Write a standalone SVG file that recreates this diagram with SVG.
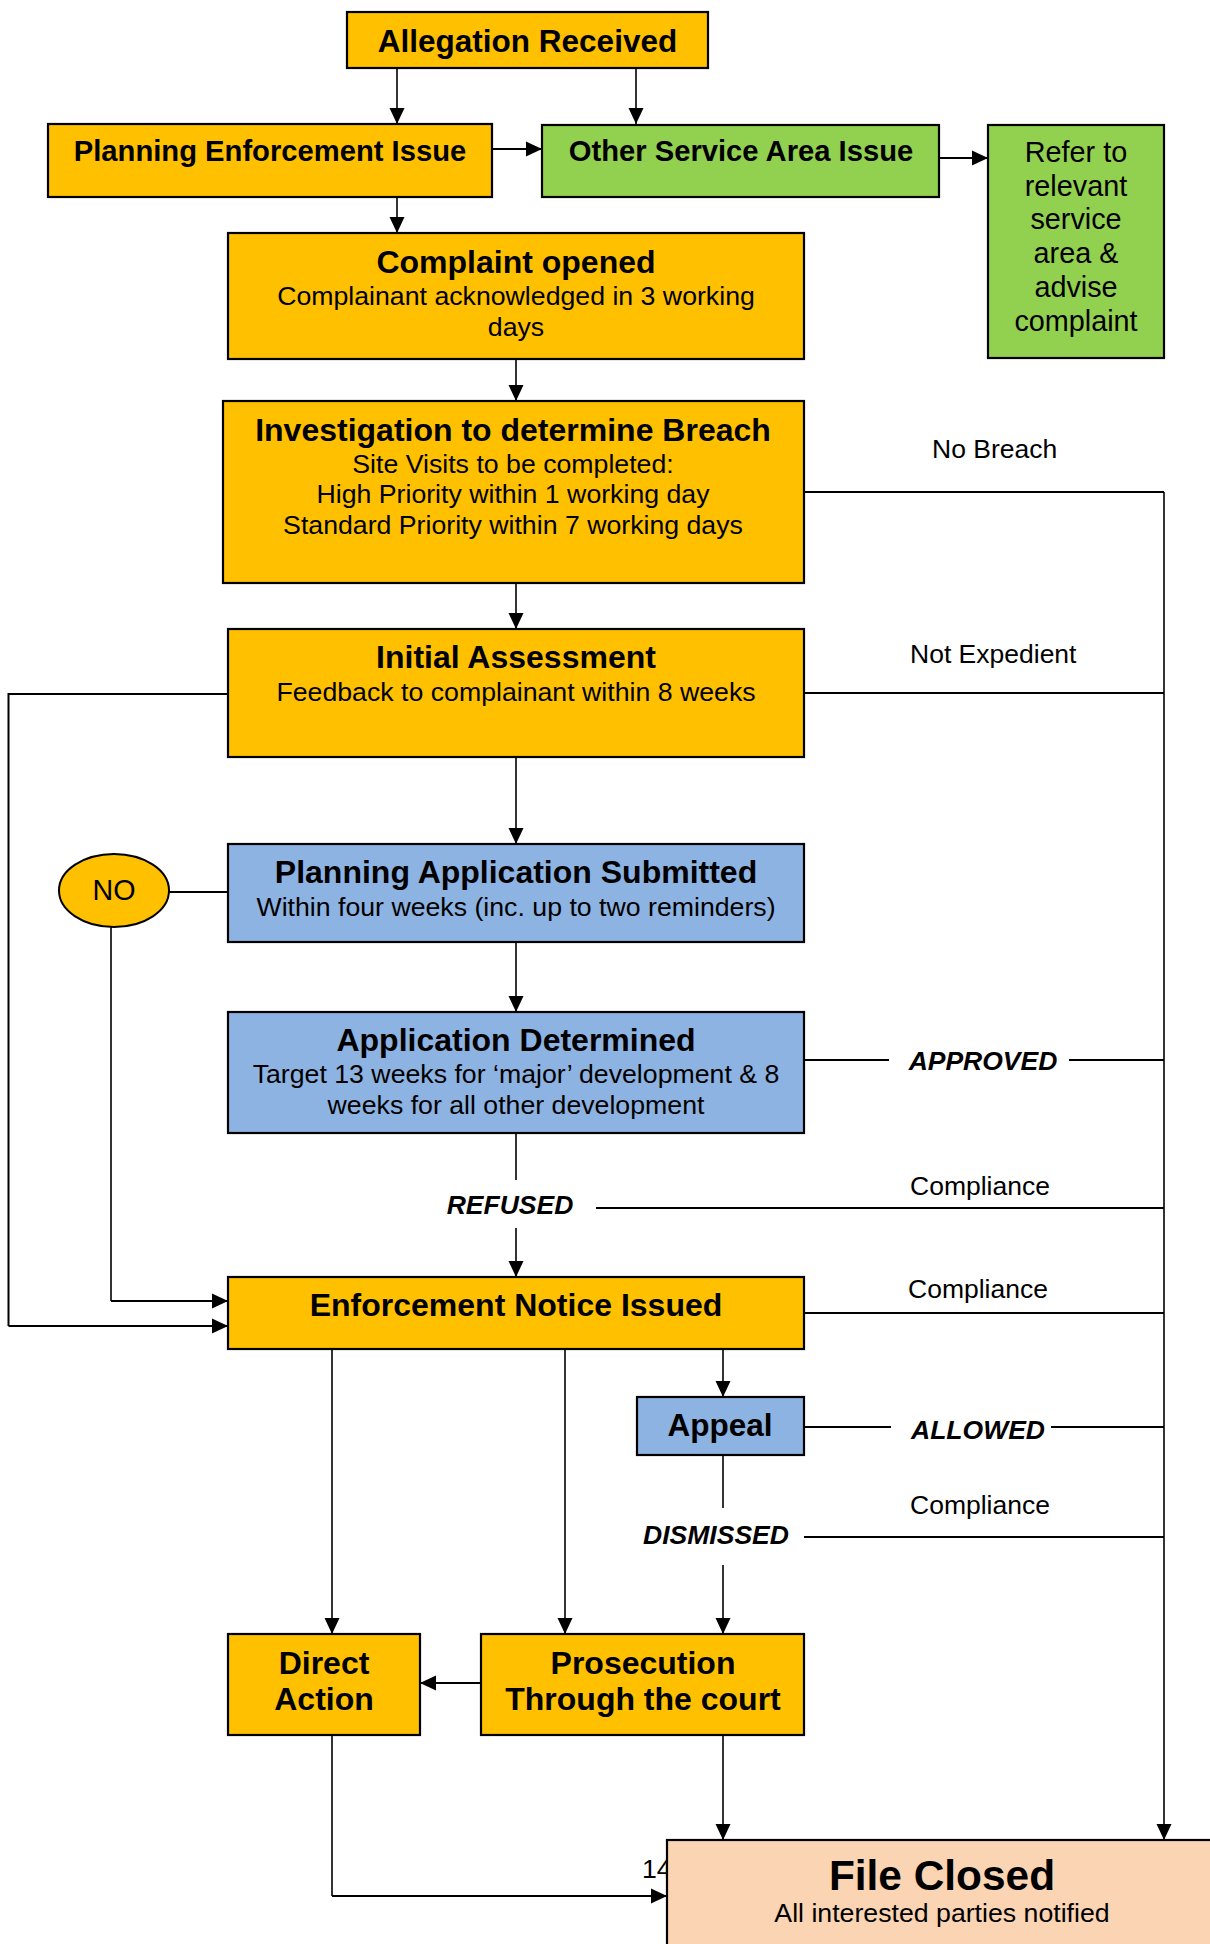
<svg xmlns="http://www.w3.org/2000/svg" width="1210" height="1944" viewBox="0 0 1210 1944">
<style>
text{font-family:"Liberation Sans",Arial,sans-serif;fill:#000;text-anchor:middle}
.t{font-weight:bold;font-size:32px}
.s{font-size:26.7px}
.lbl{font-size:26.5px;text-anchor:start}
.bi{font-weight:bold;font-style:italic;font-size:26.5px}
.box{stroke:#000;stroke-width:2.2}
.or{fill:#FFC000}
.gr{fill:#92D050}
.bl{fill:#8DB3E2}
.pe{fill:#FBD4B4}
.c{fill:none;stroke:#000;stroke-width:1.6}
.h{fill:none;stroke:#000;stroke-width:2}
</style>
<defs>
<marker id="ar" markerUnits="userSpaceOnUse" markerWidth="16" markerHeight="16" viewBox="0 0 16 16" refX="16" refY="8" orient="auto">
<path d="M0,0.5 L16,8 L0,15.5 Z" fill="#000"/>
</marker>
</defs>
<text x="642" y="1878" class="s" style="text-anchor:start">14</text>
<g id="connectors">
<line class="c" x1="397" y1="68" x2="397" y2="124" marker-end="url(#ar)"/>
<line class="c" x1="636" y1="68" x2="636" y2="124" marker-end="url(#ar)"/>
<line class="h" x1="492" y1="149" x2="542" y2="149" marker-end="url(#ar)"/>
<line class="h" x1="939" y1="158" x2="988" y2="158" marker-end="url(#ar)"/>
<line class="c" x1="397" y1="197" x2="397" y2="233" marker-end="url(#ar)"/>
<line class="c" x1="516" y1="359" x2="516" y2="401" marker-end="url(#ar)"/>
<line class="c" x1="516" y1="583" x2="516" y2="629" marker-end="url(#ar)"/>
<line class="c" x1="516" y1="757" x2="516" y2="844" marker-end="url(#ar)"/>
<line class="c" x1="516" y1="942" x2="516" y2="1012" marker-end="url(#ar)"/>
<line class="c" x1="516" y1="1133" x2="516" y2="1180"/>
<line class="c" x1="516" y1="1228" x2="516" y2="1277" marker-end="url(#ar)"/>
<polyline class="h" points="804,492 1164,492"/>
<line class="c" x1="1164" y1="492" x2="1164" y2="1840" marker-end="url(#ar)"/>
<line class="h" x1="804" y1="693" x2="1164" y2="693"/>
<polyline class="h" points="228,694 8.5,694 8.5,1326"/>
<line class="h" x1="8.5" y1="1326" x2="228" y2="1326" marker-end="url(#ar)"/>
<line class="h" x1="169" y1="892" x2="228" y2="892"/>
<line class="c" x1="111" y1="927" x2="111" y2="1301"/>
<line class="h" x1="111" y1="1301" x2="228" y2="1301" marker-end="url(#ar)"/>
<line class="h" x1="804" y1="1060" x2="889" y2="1060"/>
<line class="h" x1="1069" y1="1060" x2="1164" y2="1060"/>
<line class="h" x1="596" y1="1208" x2="1164" y2="1208"/>
<line class="h" x1="804" y1="1313" x2="1164" y2="1313"/>
<line class="c" x1="332" y1="1349" x2="332" y2="1634" marker-end="url(#ar)"/>
<line class="c" x1="565" y1="1349" x2="565" y2="1634" marker-end="url(#ar)"/>
<line class="c" x1="723" y1="1349" x2="723" y2="1397" marker-end="url(#ar)"/>
<line class="h" x1="804" y1="1427" x2="891" y2="1427"/>
<line class="h" x1="1051" y1="1427" x2="1164" y2="1427"/>
<line class="c" x1="723" y1="1456" x2="723" y2="1508"/>
<line class="h" x1="804" y1="1537" x2="1164" y2="1537"/>
<line class="c" x1="723" y1="1565" x2="723" y2="1634" marker-end="url(#ar)"/>
<line class="h" x1="481" y1="1683" x2="420" y2="1683" marker-end="url(#ar)"/>
<line class="c" x1="723" y1="1735" x2="723" y2="1840" marker-end="url(#ar)"/>
<polyline class="c" points="332,1735 332,1896"/>
<line class="h" x1="332" y1="1896" x2="667" y2="1896" marker-end="url(#ar)"/>
<text x="932" y="458" class="lbl">No Breach</text>
<text x="910" y="663" class="lbl">Not Expedient</text>
<text x="983" y="1070" class="bi">APPROVED</text>
<text x="510" y="1214" class="bi">REFUSED</text>
<text x="910" y="1195" class="lbl">Compliance</text>
<text x="908" y="1298" class="lbl">Compliance</text>
<text x="978" y="1439" class="bi">ALLOWED</text>
<text x="910" y="1514" class="lbl">Compliance</text>
<text x="716" y="1544" class="bi">DISMISSED</text>
</g>
<g id="allegation">
<rect class="box or" x="347" y="12" width="361" height="56"/>
<text x="527.5" y="52" class="t" style="font-size:31.5px">Allegation Received</text>
</g>
<g id="planning-enforcement">
<rect class="box or" x="48" y="124" width="444" height="73"/>
<text x="270" y="161" class="t" style="font-size:29.2px">Planning Enforcement Issue</text>
</g>
<g id="other-service">
<rect class="box gr" x="542" y="125" width="397" height="72"/>
<text x="741" y="161" class="t" style="font-size:29.2px">Other Service Area Issue</text>
</g>
<g id="refer">
<rect class="box gr" x="988" y="125" width="176" height="233"/>
<text x="1076" y="162" style="font-size:28.8px">Refer to</text>
<text x="1076" y="196" style="font-size:28.8px">relevant</text>
<text x="1076" y="229" style="font-size:28.8px">service</text>
<text x="1076" y="263" style="font-size:28.8px">area &amp;</text>
<text x="1076" y="297" style="font-size:28.8px">advise</text>
<text x="1076" y="331" style="font-size:28.8px">complaint</text>
</g>
<g id="complaint-opened">
<rect class="box or" x="228" y="233" width="576" height="126"/>
<text x="516" y="273" class="t">Complaint opened</text>
<text x="516" y="305" class="s">Complainant acknowledged in 3 working</text>
<text x="516" y="336" class="s">days</text>
</g>
<g id="investigation">
<rect class="box or" x="223" y="401" width="581" height="182"/>
<text x="513" y="441" class="t">Investigation to determine Breach</text>
<text x="513" y="473" class="s">Site Visits to be completed:</text>
<text x="513" y="503" class="s">High Priority within 1 working day</text>
<text x="513" y="534" class="s">Standard Priority within 7 working days</text>
</g>
<g id="initial-assessment">
<rect class="box or" x="228" y="629" width="576" height="128"/>
<text x="516" y="668" class="t">Initial Assessment</text>
<text x="516" y="701" class="s">Feedback to complainant within 8 weeks</text>
</g>
<g id="no">
<ellipse cx="114" cy="890.5" rx="55" ry="36.5" fill="#FFC000" stroke="#000" stroke-width="2"/>
<text x="114" y="900" style="font-size:28.7px">NO</text>
</g>
<g id="application-submitted">
<rect class="box bl" x="228" y="844" width="576" height="98"/>
<text x="516" y="883" class="t">Planning Application Submitted</text>
<text x="516" y="916" class="s">Within four weeks (inc. up to two reminders)</text>
</g>
<g id="application-determined">
<rect class="box bl" x="228" y="1012" width="576" height="121"/>
<text x="516" y="1051" class="t">Application Determined</text>
<text x="516" y="1083" class="s">Target 13 weeks for ‘major’ development &amp; 8</text>
<text x="516" y="1114" class="s">weeks for all other development</text>
</g>
<g id="enforcement-notice">
<rect class="box or" x="228" y="1277" width="576" height="72"/>
<text x="516" y="1316" class="t">Enforcement Notice Issued</text>
</g>
<g id="appeal">
<rect class="box bl" x="637" y="1397" width="167" height="58"/>
<text x="720" y="1436" class="t" style="font-size:31.5px">Appeal</text>
</g>
<g id="direct-action">
<rect class="box or" x="228" y="1634" width="192" height="101"/>
<text x="324" y="1674" class="t">Direct</text>
<text x="324" y="1710" class="t">Action</text>
</g>
<g id="prosecution">
<rect class="box or" x="481" y="1634" width="323" height="101"/>
<text x="643" y="1674" class="t">Prosecution</text>
<text x="643" y="1710" class="t">Through the court</text>
</g>
<g id="file-closed">
<rect class="box pe" x="667" y="1840" width="560" height="130"/>
<text x="942" y="1890" class="t" style="font-size:42.4px">File Closed</text>
<text x="942" y="1922" class="s">All interested parties notified</text>
</g>
</svg>
